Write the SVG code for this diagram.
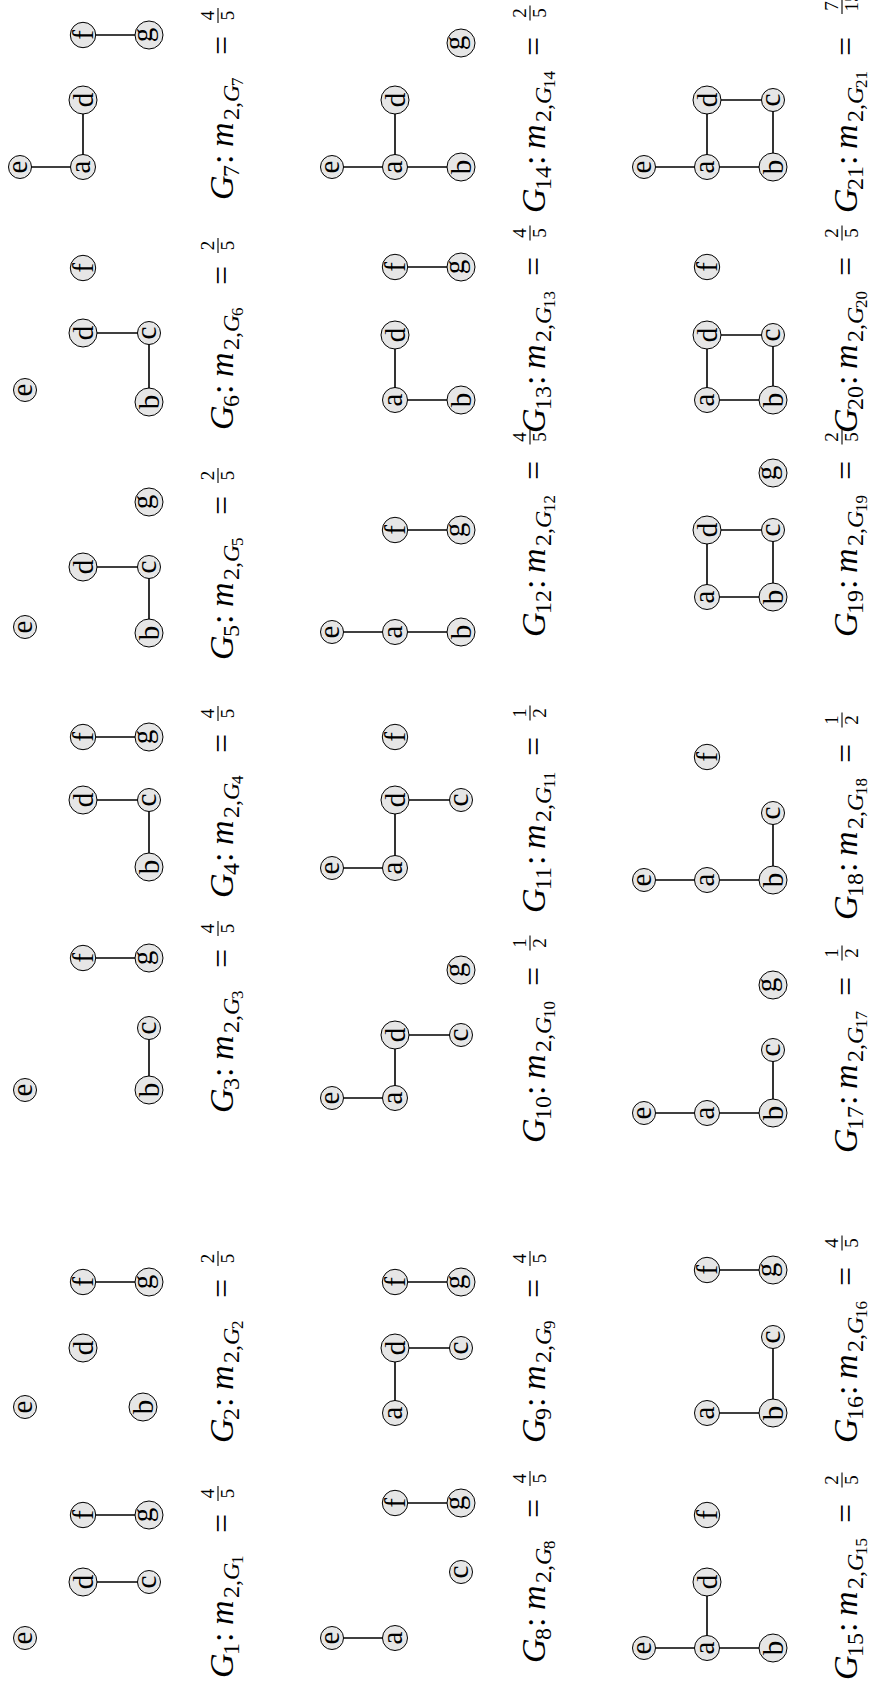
<svg xmlns="http://www.w3.org/2000/svg" width="876" height="1696" viewBox="0 0 876 1696">
<style>
.n{fill:#e6e6e6;stroke:#000;stroke-width:1}
.t{font-family:"Liberation Serif",serif;font-size:29px;text-anchor:middle;fill:#000}
#edges line{stroke:#000;stroke-width:1.6}
.lb{font-family:"Liberation Serif",serif;font-size:34px;fill:#000}
.i{font-style:italic}
.s{font-size:24px}
.ss{font-size:17px}
.fr{font-family:"Liberation Serif",serif;font-size:19px;text-anchor:middle}
.bar{stroke:#000;stroke-width:1.1}
</style>
<rect width="876" height="1696" fill="#fff"/>
<g transform="translate(0,1696) rotate(-90)">
<g id="edges">
<line x1="114" y1="83" x2="114" y2="149"/><line x1="181" y1="83" x2="181" y2="149"/>
<line x1="414" y1="83" x2="414" y2="149"/>
<line x1="606" y1="149" x2="668" y2="149"/><line x1="738" y1="83" x2="738" y2="149"/>
<line x1="829" y1="149" x2="896" y2="149"/><line x1="896" y1="83" x2="896" y2="149"/><line x1="959" y1="83" x2="959" y2="149"/>
<line x1="1063" y1="149" x2="1129" y2="149"/><line x1="1129" y1="83" x2="1129" y2="149"/>
<line x1="1294" y1="149" x2="1363" y2="149"/><line x1="1363" y1="83" x2="1363" y2="149"/>
<line x1="1529" y1="20" x2="1529" y2="83"/><line x1="1529" y1="83" x2="1596" y2="83"/><line x1="1661" y1="83" x2="1661" y2="149"/>
<line x1="58" y1="332" x2="58" y2="395"/><line x1="193" y1="395" x2="193" y2="461"/>
<line x1="283" y1="395" x2="348" y2="395"/><line x1="348" y1="395" x2="348" y2="461"/><line x1="414" y1="395" x2="414" y2="461"/>
<line x1="598" y1="332" x2="598" y2="395"/><line x1="598" y1="395" x2="661" y2="395"/><line x1="661" y1="395" x2="661" y2="461"/>
<line x1="828" y1="332" x2="828" y2="395"/><line x1="828" y1="395" x2="896" y2="395"/><line x1="896" y1="395" x2="896" y2="461"/>
<line x1="1064" y1="332" x2="1064" y2="395"/><line x1="1064" y1="395" x2="1064" y2="461"/><line x1="1166" y1="395" x2="1166" y2="461"/>
<line x1="1296" y1="395" x2="1296" y2="461"/><line x1="1296" y1="395" x2="1361" y2="395"/><line x1="1429" y1="395" x2="1429" y2="461"/>
<line x1="1529" y1="332" x2="1529" y2="395"/><line x1="1529" y1="395" x2="1529" y2="461"/><line x1="1529" y1="395" x2="1596" y2="395"/>
<line x1="48" y1="644" x2="48" y2="707"/><line x1="48" y1="707" x2="48" y2="773"/><line x1="48" y1="707" x2="114" y2="707"/>
<line x1="283" y1="707" x2="283" y2="773"/><line x1="283" y1="773" x2="359" y2="773"/><line x1="426" y1="707" x2="426" y2="773"/>
<line x1="583" y1="644" x2="583" y2="707"/><line x1="583" y1="707" x2="583" y2="773"/><line x1="583" y1="773" x2="646" y2="773"/>
<line x1="816" y1="644" x2="816" y2="707"/><line x1="816" y1="707" x2="816" y2="773"/><line x1="816" y1="773" x2="883" y2="773"/>
<line x1="1099" y1="707" x2="1099" y2="773"/><line x1="1099" y1="707" x2="1166" y2="707"/><line x1="1166" y1="707" x2="1166" y2="773"/><line x1="1099" y1="773" x2="1166" y2="773"/>
<line x1="1296" y1="707" x2="1296" y2="773"/><line x1="1296" y1="707" x2="1361" y2="707"/><line x1="1361" y1="707" x2="1361" y2="773"/><line x1="1296" y1="773" x2="1361" y2="773"/>
<line x1="1529" y1="644" x2="1529" y2="707"/><line x1="1529" y1="707" x2="1529" y2="773"/><line x1="1529" y1="707" x2="1596" y2="707"/><line x1="1596" y1="707" x2="1596" y2="773"/><line x1="1529" y1="773" x2="1596" y2="773"/>
</g>

<g id="G1">
<g id="G1-e"><circle class="n" cx="58" cy="25" r="11.5"/><text class="t" x="58" y="31.7">e</text></g>
<g id="G1-d"><circle class="n" cx="114" cy="83" r="14"/><text class="t" x="114" y="92.9">d</text></g>
<g id="G1-c"><circle class="n" cx="114" cy="149" r="11.5"/><text class="t" x="114" y="155.7">c</text></g>
<g id="G1-f"><circle class="n" cx="181" cy="83" r="12.7"/><text class="t" x="181" y="92.9">f</text></g>
<g id="G1-g"><circle class="n" cx="181" cy="149" r="14"/><text class="t" x="181" y="152.4">g</text></g>
</g>
<g id="G2">
<g id="G2-e"><circle class="n" cx="289" cy="25" r="11.5"/><text class="t" x="289" y="31.7">e</text></g>
<g id="G2-b"><circle class="n" cx="289" cy="143" r="14"/><text class="t" x="289" y="152.9">b</text></g>
<g id="G2-d"><circle class="n" cx="348" cy="83" r="14"/><text class="t" x="348" y="92.9">d</text></g>
<g id="G2-f"><circle class="n" cx="414" cy="83" r="12.7"/><text class="t" x="414" y="92.9">f</text></g>
<g id="G2-g"><circle class="n" cx="414" cy="149" r="14"/><text class="t" x="414" y="152.4">g</text></g>
</g>
<g id="G3">
<g id="G3-e"><circle class="n" cx="606" cy="25" r="11.5"/><text class="t" x="606" y="31.7">e</text></g>
<g id="G3-b"><circle class="n" cx="606" cy="149" r="14"/><text class="t" x="606" y="158.9">b</text></g>
<g id="G3-c"><circle class="n" cx="668" cy="149" r="11.5"/><text class="t" x="668" y="155.7">c</text></g>
<g id="G3-f"><circle class="n" cx="738" cy="83" r="12.7"/><text class="t" x="738" y="92.9">f</text></g>
<g id="G3-g"><circle class="n" cx="738" cy="149" r="14"/><text class="t" x="738" y="152.4">g</text></g>
</g>
<g id="G4">
<g id="G4-b"><circle class="n" cx="829" cy="149" r="14"/><text class="t" x="829" y="158.9">b</text></g>
<g id="G4-d"><circle class="n" cx="896" cy="83" r="14"/><text class="t" x="896" y="92.9">d</text></g>
<g id="G4-c"><circle class="n" cx="896" cy="149" r="11.5"/><text class="t" x="896" y="155.7">c</text></g>
<g id="G4-f"><circle class="n" cx="959" cy="83" r="12.7"/><text class="t" x="959" y="92.9">f</text></g>
<g id="G4-g"><circle class="n" cx="959" cy="149" r="14"/><text class="t" x="959" y="152.4">g</text></g>
</g>
<g id="G5">
<g id="G5-e"><circle class="n" cx="1069" cy="25" r="11.5"/><text class="t" x="1069" y="31.7">e</text></g>
<g id="G5-b"><circle class="n" cx="1063" cy="149" r="14"/><text class="t" x="1063" y="158.9">b</text></g>
<g id="G5-d"><circle class="n" cx="1129" cy="83" r="14"/><text class="t" x="1129" y="92.9">d</text></g>
<g id="G5-c"><circle class="n" cx="1129" cy="149" r="11.5"/><text class="t" x="1129" y="155.7">c</text></g>
<g id="G5-g"><circle class="n" cx="1194" cy="149" r="14"/><text class="t" x="1194" y="152.4">g</text></g>
</g>
<g id="G6">
<g id="G6-e"><circle class="n" cx="1306" cy="25" r="11.5"/><text class="t" x="1306" y="31.7">e</text></g>
<g id="G6-b"><circle class="n" cx="1294" cy="149" r="14"/><text class="t" x="1294" y="158.9">b</text></g>
<g id="G6-d"><circle class="n" cx="1363" cy="83" r="14"/><text class="t" x="1363" y="92.9">d</text></g>
<g id="G6-c"><circle class="n" cx="1363" cy="149" r="11.5"/><text class="t" x="1363" y="155.7">c</text></g>
<g id="G6-f"><circle class="n" cx="1428" cy="83" r="12.7"/><text class="t" x="1428" y="92.9">f</text></g>
</g>
<g id="G7">
<g id="G7-e"><circle class="n" cx="1529" cy="20" r="11.5"/><text class="t" x="1529" y="26.7">e</text></g>
<g id="G7-a"><circle class="n" cx="1529" cy="83" r="12.5"/><text class="t" x="1529" y="89.7">a</text></g>
<g id="G7-d"><circle class="n" cx="1596" cy="83" r="14"/><text class="t" x="1596" y="92.9">d</text></g>
<g id="G7-f"><circle class="n" cx="1661" cy="83" r="12.7"/><text class="t" x="1661" y="92.9">f</text></g>
<g id="G7-g"><circle class="n" cx="1661" cy="149" r="14"/><text class="t" x="1661" y="152.4">g</text></g>
</g>

<g id="G8">
<g id="G8-e"><circle class="n" cx="58" cy="332" r="11.5"/><text class="t" x="58" y="338.7">e</text></g>
<g id="G8-a"><circle class="n" cx="58" cy="395" r="12.5"/><text class="t" x="58" y="401.7">a</text></g>
<g id="G8-c"><circle class="n" cx="124" cy="461" r="11.5"/><text class="t" x="124" y="467.7">c</text></g>
<g id="G8-f"><circle class="n" cx="193" cy="395" r="12.7"/><text class="t" x="193" y="404.9">f</text></g>
<g id="G8-g"><circle class="n" cx="193" cy="461" r="14"/><text class="t" x="193" y="464.4">g</text></g>
</g>
<g id="G9">
<g id="G9-a"><circle class="n" cx="283" cy="395" r="12.5"/><text class="t" x="283" y="401.7">a</text></g>
<g id="G9-d"><circle class="n" cx="348" cy="395" r="14"/><text class="t" x="348" y="404.9">d</text></g>
<g id="G9-c"><circle class="n" cx="348" cy="461" r="11.5"/><text class="t" x="348" y="467.7">c</text></g>
<g id="G9-f"><circle class="n" cx="414" cy="395" r="12.7"/><text class="t" x="414" y="404.9">f</text></g>
<g id="G9-g"><circle class="n" cx="414" cy="461" r="14"/><text class="t" x="414" y="464.4">g</text></g>
</g>
<g id="G10">
<g id="G10-e"><circle class="n" cx="598" cy="332" r="11.5"/><text class="t" x="598" y="338.7">e</text></g>
<g id="G10-a"><circle class="n" cx="598" cy="395" r="12.5"/><text class="t" x="598" y="401.7">a</text></g>
<g id="G10-d"><circle class="n" cx="661" cy="395" r="14"/><text class="t" x="661" y="404.9">d</text></g>
<g id="G10-c"><circle class="n" cx="661" cy="461" r="11.5"/><text class="t" x="661" y="467.7">c</text></g>
<g id="G10-g"><circle class="n" cx="726" cy="461" r="14"/><text class="t" x="726" y="464.4">g</text></g>
</g>
<g id="G11">
<g id="G11-e"><circle class="n" cx="828" cy="332" r="11.5"/><text class="t" x="828" y="338.7">e</text></g>
<g id="G11-a"><circle class="n" cx="828" cy="395" r="12.5"/><text class="t" x="828" y="401.7">a</text></g>
<g id="G11-d"><circle class="n" cx="896" cy="395" r="14"/><text class="t" x="896" y="404.9">d</text></g>
<g id="G11-c"><circle class="n" cx="896" cy="461" r="11.5"/><text class="t" x="896" y="467.7">c</text></g>
<g id="G11-f"><circle class="n" cx="959" cy="395" r="12.7"/><text class="t" x="959" y="404.9">f</text></g>
</g>
<g id="G12">
<g id="G12-e"><circle class="n" cx="1064" cy="332" r="11.5"/><text class="t" x="1064" y="338.7">e</text></g>
<g id="G12-a"><circle class="n" cx="1064" cy="395" r="12.5"/><text class="t" x="1064" y="401.7">a</text></g>
<g id="G12-b"><circle class="n" cx="1064" cy="461" r="14"/><text class="t" x="1064" y="470.9">b</text></g>
<g id="G12-f"><circle class="n" cx="1166" cy="395" r="12.7"/><text class="t" x="1166" y="404.9">f</text></g>
<g id="G12-g"><circle class="n" cx="1166" cy="461" r="14"/><text class="t" x="1166" y="464.4">g</text></g>
</g>
<g id="G13">
<g id="G13-a"><circle class="n" cx="1296" cy="395" r="12.5"/><text class="t" x="1296" y="401.7">a</text></g>
<g id="G13-b"><circle class="n" cx="1296" cy="461" r="14"/><text class="t" x="1296" y="470.9">b</text></g>
<g id="G13-d"><circle class="n" cx="1361" cy="395" r="14"/><text class="t" x="1361" y="404.9">d</text></g>
<g id="G13-f"><circle class="n" cx="1429" cy="395" r="12.7"/><text class="t" x="1429" y="404.9">f</text></g>
<g id="G13-g"><circle class="n" cx="1429" cy="461" r="14"/><text class="t" x="1429" y="464.4">g</text></g>
</g>
<g id="G14">
<g id="G14-e"><circle class="n" cx="1529" cy="332" r="11.5"/><text class="t" x="1529" y="338.7">e</text></g>
<g id="G14-a"><circle class="n" cx="1529" cy="395" r="12.5"/><text class="t" x="1529" y="401.7">a</text></g>
<g id="G14-b"><circle class="n" cx="1529" cy="461" r="14"/><text class="t" x="1529" y="470.9">b</text></g>
<g id="G14-d"><circle class="n" cx="1596" cy="395" r="14"/><text class="t" x="1596" y="404.9">d</text></g>
<g id="G14-g"><circle class="n" cx="1653" cy="461" r="14"/><text class="t" x="1653" y="464.4">g</text></g>
</g>

<g id="G15">
<g id="G15-e"><circle class="n" cx="48" cy="644" r="11.5"/><text class="t" x="48" y="650.7">e</text></g>
<g id="G15-a"><circle class="n" cx="48" cy="707" r="12.5"/><text class="t" x="48" y="713.7">a</text></g>
<g id="G15-b"><circle class="n" cx="48" cy="773" r="14"/><text class="t" x="48" y="782.9">b</text></g>
<g id="G15-d"><circle class="n" cx="114" cy="707" r="14"/><text class="t" x="114" y="716.9">d</text></g>
<g id="G15-f"><circle class="n" cx="181" cy="707" r="12.7"/><text class="t" x="181" y="716.9">f</text></g>
</g>
<g id="G16">
<g id="G16-a"><circle class="n" cx="283" cy="707" r="12.5"/><text class="t" x="283" y="713.7">a</text></g>
<g id="G16-b"><circle class="n" cx="283" cy="773" r="14"/><text class="t" x="283" y="782.9">b</text></g>
<g id="G16-c"><circle class="n" cx="359" cy="773" r="11.5"/><text class="t" x="359" y="779.7">c</text></g>
<g id="G16-f"><circle class="n" cx="426" cy="707" r="12.7"/><text class="t" x="426" y="716.9">f</text></g>
<g id="G16-g"><circle class="n" cx="426" cy="773" r="14"/><text class="t" x="426" y="776.4">g</text></g>
</g>
<g id="G17">
<g id="G17-e"><circle class="n" cx="583" cy="644" r="11.5"/><text class="t" x="583" y="650.7">e</text></g>
<g id="G17-a"><circle class="n" cx="583" cy="707" r="12.5"/><text class="t" x="583" y="713.7">a</text></g>
<g id="G17-b"><circle class="n" cx="583" cy="773" r="14"/><text class="t" x="583" y="782.9">b</text></g>
<g id="G17-c"><circle class="n" cx="646" cy="773" r="11.5"/><text class="t" x="646" y="779.7">c</text></g>
<g id="G17-g"><circle class="n" cx="711" cy="773" r="14"/><text class="t" x="711" y="776.4">g</text></g>
</g>
<g id="G18">
<g id="G18-e"><circle class="n" cx="816" cy="644" r="11.5"/><text class="t" x="816" y="650.7">e</text></g>
<g id="G18-a"><circle class="n" cx="816" cy="707" r="12.5"/><text class="t" x="816" y="713.7">a</text></g>
<g id="G18-b"><circle class="n" cx="816" cy="773" r="14"/><text class="t" x="816" y="782.9">b</text></g>
<g id="G18-c"><circle class="n" cx="883" cy="773" r="11.5"/><text class="t" x="883" y="779.7">c</text></g>
<g id="G18-f"><circle class="n" cx="939" cy="707" r="12.7"/><text class="t" x="939" y="716.9">f</text></g>
</g>
<g id="G19">
<g id="G19-a"><circle class="n" cx="1099" cy="707" r="12.5"/><text class="t" x="1099" y="713.7">a</text></g>
<g id="G19-b"><circle class="n" cx="1099" cy="773" r="14"/><text class="t" x="1099" y="782.9">b</text></g>
<g id="G19-d"><circle class="n" cx="1166" cy="707" r="14"/><text class="t" x="1166" y="716.9">d</text></g>
<g id="G19-c"><circle class="n" cx="1166" cy="773" r="11.5"/><text class="t" x="1166" y="779.7">c</text></g>
<g id="G19-g"><circle class="n" cx="1223" cy="773" r="14"/><text class="t" x="1223" y="776.4">g</text></g>
</g>
<g id="G20">
<g id="G20-a"><circle class="n" cx="1296" cy="707" r="12.5"/><text class="t" x="1296" y="713.7">a</text></g>
<g id="G20-b"><circle class="n" cx="1296" cy="773" r="14"/><text class="t" x="1296" y="782.9">b</text></g>
<g id="G20-d"><circle class="n" cx="1361" cy="707" r="14"/><text class="t" x="1361" y="716.9">d</text></g>
<g id="G20-c"><circle class="n" cx="1361" cy="773" r="11.5"/><text class="t" x="1361" y="779.7">c</text></g>
<g id="G20-f"><circle class="n" cx="1429" cy="707" r="12.7"/><text class="t" x="1429" y="716.9">f</text></g>
</g>
<g id="G21">
<g id="G21-e"><circle class="n" cx="1529" cy="644" r="11.5"/><text class="t" x="1529" y="650.7">e</text></g>
<g id="G21-a"><circle class="n" cx="1529" cy="707" r="12.5"/><text class="t" x="1529" y="713.7">a</text></g>
<g id="G21-b"><circle class="n" cx="1529" cy="773" r="14"/><text class="t" x="1529" y="782.9">b</text></g>
<g id="G21-d"><circle class="n" cx="1596" cy="707" r="14"/><text class="t" x="1596" y="716.9">d</text></g>
<g id="G21-c"><circle class="n" cx="1596" cy="773" r="11.5"/><text class="t" x="1596" y="779.7">c</text></g>
</g>

<g id="labels">
<g id="L1" transform="translate(18,233)"><text class="lb"><tspan class="i">G</tspan><tspan class="s" x="23" y="6">1</tspan><tspan x="36" y="0">:</tspan><tspan class="i" x="53">m</tspan><tspan class="s" x="80" y="6">2,</tspan><tspan class="s i">G</tspan><tspan class="ss" x="114" y="10">1</tspan><tspan x="145" y="0">=</tspan></text><text class="fr" x="184.5" y="-19">4</text><line class="bar" x1="177" y1="-15" x2="192" y2="-15"/><text class="fr" x="184.5" y="1">5</text></g>
<g id="L2" transform="translate(253,233)"><text class="lb"><tspan class="i">G</tspan><tspan class="s" x="23" y="6">2</tspan><tspan x="36" y="0">:</tspan><tspan class="i" x="53">m</tspan><tspan class="s" x="80" y="6">2,</tspan><tspan class="s i">G</tspan><tspan class="ss" x="114" y="10">2</tspan><tspan x="145" y="0">=</tspan></text><text class="fr" x="184.5" y="-19">2</text><line class="bar" x1="177" y1="-15" x2="192" y2="-15"/><text class="fr" x="184.5" y="1">5</text></g>
<g id="L3" transform="translate(583,233)"><text class="lb"><tspan class="i">G</tspan><tspan class="s" x="23" y="6">3</tspan><tspan x="36" y="0">:</tspan><tspan class="i" x="53">m</tspan><tspan class="s" x="80" y="6">2,</tspan><tspan class="s i">G</tspan><tspan class="ss" x="114" y="10">3</tspan><tspan x="145" y="0">=</tspan></text><text class="fr" x="184.5" y="-19">4</text><line class="bar" x1="177" y1="-15" x2="192" y2="-15"/><text class="fr" x="184.5" y="1">5</text></g>
<g id="L4" transform="translate(798,233)"><text class="lb"><tspan class="i">G</tspan><tspan class="s" x="23" y="6">4</tspan><tspan x="36" y="0">:</tspan><tspan class="i" x="53">m</tspan><tspan class="s" x="80" y="6">2,</tspan><tspan class="s i">G</tspan><tspan class="ss" x="114" y="10">4</tspan><tspan x="145" y="0">=</tspan></text><text class="fr" x="184.5" y="-19">4</text><line class="bar" x1="177" y1="-15" x2="192" y2="-15"/><text class="fr" x="184.5" y="1">5</text></g>
<g id="L5" transform="translate(1036,233)"><text class="lb"><tspan class="i">G</tspan><tspan class="s" x="23" y="6">5</tspan><tspan x="36" y="0">:</tspan><tspan class="i" x="53">m</tspan><tspan class="s" x="80" y="6">2,</tspan><tspan class="s i">G</tspan><tspan class="ss" x="114" y="10">5</tspan><tspan x="145" y="0">=</tspan></text><text class="fr" x="184.5" y="-19">2</text><line class="bar" x1="177" y1="-15" x2="192" y2="-15"/><text class="fr" x="184.5" y="1">5</text></g>
<g id="L6" transform="translate(1266,233)"><text class="lb"><tspan class="i">G</tspan><tspan class="s" x="23" y="6">6</tspan><tspan x="36" y="0">:</tspan><tspan class="i" x="53">m</tspan><tspan class="s" x="80" y="6">2,</tspan><tspan class="s i">G</tspan><tspan class="ss" x="114" y="10">6</tspan><tspan x="145" y="0">=</tspan></text><text class="fr" x="184.5" y="-19">2</text><line class="bar" x1="177" y1="-15" x2="192" y2="-15"/><text class="fr" x="184.5" y="1">5</text></g>
<g id="L7" transform="translate(1496,233)"><text class="lb"><tspan class="i">G</tspan><tspan class="s" x="23" y="6">7</tspan><tspan x="36" y="0">:</tspan><tspan class="i" x="53">m</tspan><tspan class="s" x="80" y="6">2,</tspan><tspan class="s i">G</tspan><tspan class="ss" x="114" y="10">7</tspan><tspan x="145" y="0">=</tspan></text><text class="fr" x="184.5" y="-19">4</text><line class="bar" x1="177" y1="-15" x2="192" y2="-15"/><text class="fr" x="184.5" y="1">5</text></g>

<g id="L8" transform="translate(33,545)"><text class="lb"><tspan class="i">G</tspan><tspan class="s" x="23" y="6">8</tspan><tspan x="36" y="0">:</tspan><tspan class="i" x="53">m</tspan><tspan class="s" x="80" y="6">2,</tspan><tspan class="s i">G</tspan><tspan class="ss" x="114" y="10">8</tspan><tspan x="145" y="0">=</tspan></text><text class="fr" x="184.5" y="-19">4</text><line class="bar" x1="177" y1="-15" x2="192" y2="-15"/><text class="fr" x="184.5" y="1">5</text></g>
<g id="L9" transform="translate(253,545)"><text class="lb"><tspan class="i">G</tspan><tspan class="s" x="23" y="6">9</tspan><tspan x="36" y="0">:</tspan><tspan class="i" x="53">m</tspan><tspan class="s" x="80" y="6">2,</tspan><tspan class="s i">G</tspan><tspan class="ss" x="114" y="10">9</tspan><tspan x="145" y="0">=</tspan></text><text class="fr" x="184.5" y="-19">4</text><line class="bar" x1="177" y1="-15" x2="192" y2="-15"/><text class="fr" x="184.5" y="1">5</text></g>
<g id="L10" transform="translate(553,545)"><text class="lb"><tspan class="i">G</tspan><tspan class="s" x="23" y="6">10</tspan><tspan x="48" y="0">:</tspan><tspan class="i" x="64">m</tspan><tspan class="s" x="91" y="6">2,</tspan><tspan class="s i">G</tspan><tspan class="ss" x="125" y="10">10</tspan><tspan x="157" y="0">=</tspan></text><text class="fr" x="200" y="-19">1</text><line class="bar" x1="192.5" y1="-15" x2="207.5" y2="-15"/><text class="fr" x="200" y="1">2</text></g>
<g id="L11" transform="translate(783,545)"><text class="lb"><tspan class="i">G</tspan><tspan class="s" x="23" y="6">11</tspan><tspan x="48" y="0">:</tspan><tspan class="i" x="64">m</tspan><tspan class="s" x="91" y="6">2,</tspan><tspan class="s i">G</tspan><tspan class="ss" x="125" y="10">11</tspan><tspan x="157" y="0">=</tspan></text><text class="fr" x="200" y="-19">1</text><line class="bar" x1="192.5" y1="-15" x2="207.5" y2="-15"/><text class="fr" x="200" y="1">2</text></g>
<g id="L12" transform="translate(1059,545)"><text class="lb"><tspan class="i">G</tspan><tspan class="s" x="23" y="6">12</tspan><tspan x="48" y="0">:</tspan><tspan class="i" x="64">m</tspan><tspan class="s" x="91" y="6">2,</tspan><tspan class="s i">G</tspan><tspan class="ss" x="125" y="10">12</tspan><tspan x="157" y="0">=</tspan></text><text class="fr" x="200" y="-19">4</text><line class="bar" x1="192.5" y1="-15" x2="207.5" y2="-15"/><text class="fr" x="200" y="1">5</text></g>
<g id="L13" transform="translate(1263,545)"><text class="lb"><tspan class="i">G</tspan><tspan class="s" x="23" y="6">13</tspan><tspan x="48" y="0">:</tspan><tspan class="i" x="64">m</tspan><tspan class="s" x="91" y="6">2,</tspan><tspan class="s i">G</tspan><tspan class="ss" x="125" y="10">13</tspan><tspan x="157" y="0">=</tspan></text><text class="fr" x="200" y="-19">4</text><line class="bar" x1="192.5" y1="-15" x2="207.5" y2="-15"/><text class="fr" x="200" y="1">5</text></g>
<g id="L14" transform="translate(1483,545)"><text class="lb"><tspan class="i">G</tspan><tspan class="s" x="23" y="6">14</tspan><tspan x="48" y="0">:</tspan><tspan class="i" x="64">m</tspan><tspan class="s" x="91" y="6">2,</tspan><tspan class="s i">G</tspan><tspan class="ss" x="125" y="10">14</tspan><tspan x="157" y="0">=</tspan></text><text class="fr" x="200" y="-19">2</text><line class="bar" x1="192.5" y1="-15" x2="207.5" y2="-15"/><text class="fr" x="200" y="1">5</text></g>

<g id="L15" transform="translate(16,857)"><text class="lb"><tspan class="i">G</tspan><tspan class="s" x="23" y="6">15</tspan><tspan x="48" y="0">:</tspan><tspan class="i" x="64">m</tspan><tspan class="s" x="91" y="6">2,</tspan><tspan class="s i">G</tspan><tspan class="ss" x="125" y="10">15</tspan><tspan x="157" y="0">=</tspan></text><text class="fr" x="200" y="-19">2</text><line class="bar" x1="192.5" y1="-15" x2="207.5" y2="-15"/><text class="fr" x="200" y="1">5</text></g>
<g id="L16" transform="translate(253,857)"><text class="lb"><tspan class="i">G</tspan><tspan class="s" x="23" y="6">16</tspan><tspan x="48" y="0">:</tspan><tspan class="i" x="64">m</tspan><tspan class="s" x="91" y="6">2,</tspan><tspan class="s i">G</tspan><tspan class="ss" x="125" y="10">16</tspan><tspan x="157" y="0">=</tspan></text><text class="fr" x="200" y="-19">4</text><line class="bar" x1="192.5" y1="-15" x2="207.5" y2="-15"/><text class="fr" x="200" y="1">5</text></g>
<g id="L17" transform="translate(543,857)"><text class="lb"><tspan class="i">G</tspan><tspan class="s" x="23" y="6">17</tspan><tspan x="48" y="0">:</tspan><tspan class="i" x="64">m</tspan><tspan class="s" x="91" y="6">2,</tspan><tspan class="s i">G</tspan><tspan class="ss" x="125" y="10">17</tspan><tspan x="157" y="0">=</tspan></text><text class="fr" x="200" y="-19">1</text><line class="bar" x1="192.5" y1="-15" x2="207.5" y2="-15"/><text class="fr" x="200" y="1">2</text></g>
<g id="L18" transform="translate(776,857)"><text class="lb"><tspan class="i">G</tspan><tspan class="s" x="23" y="6">18</tspan><tspan x="48" y="0">:</tspan><tspan class="i" x="64">m</tspan><tspan class="s" x="91" y="6">2,</tspan><tspan class="s i">G</tspan><tspan class="ss" x="125" y="10">18</tspan><tspan x="157" y="0">=</tspan></text><text class="fr" x="200" y="-19">1</text><line class="bar" x1="192.5" y1="-15" x2="207.5" y2="-15"/><text class="fr" x="200" y="1">2</text></g>
<g id="L19" transform="translate(1059,857)"><text class="lb"><tspan class="i">G</tspan><tspan class="s" x="23" y="6">19</tspan><tspan x="48" y="0">:</tspan><tspan class="i" x="64">m</tspan><tspan class="s" x="91" y="6">2,</tspan><tspan class="s i">G</tspan><tspan class="ss" x="125" y="10">19</tspan><tspan x="157" y="0">=</tspan></text><text class="fr" x="200" y="-19">2</text><line class="bar" x1="192.5" y1="-15" x2="207.5" y2="-15"/><text class="fr" x="200" y="1">5</text></g>
<g id="L20" transform="translate(1263,857)"><text class="lb"><tspan class="i">G</tspan><tspan class="s" x="23" y="6">20</tspan><tspan x="48" y="0">:</tspan><tspan class="i" x="64">m</tspan><tspan class="s" x="91" y="6">2,</tspan><tspan class="s i">G</tspan><tspan class="ss" x="125" y="10">20</tspan><tspan x="157" y="0">=</tspan></text><text class="fr" x="200" y="-19">2</text><line class="bar" x1="192.5" y1="-15" x2="207.5" y2="-15"/><text class="fr" x="200" y="1">5</text></g>
<g id="L21" transform="translate(1483,857)"><text class="lb"><tspan class="i">G</tspan><tspan class="s" x="23" y="6">21</tspan><tspan x="48" y="0">:</tspan><tspan class="i" x="64">m</tspan><tspan class="s" x="91" y="6">2,</tspan><tspan class="s i">G</tspan><tspan class="ss" x="125" y="10">21</tspan><tspan x="157" y="0">=</tspan></text><text class="fr" x="207" y="-19">7</text><line class="bar" x1="199" y1="-15" x2="218" y2="-15"/><text class="fr" x="211" y="1">15</text></g>
</g>
</g>
</svg>
